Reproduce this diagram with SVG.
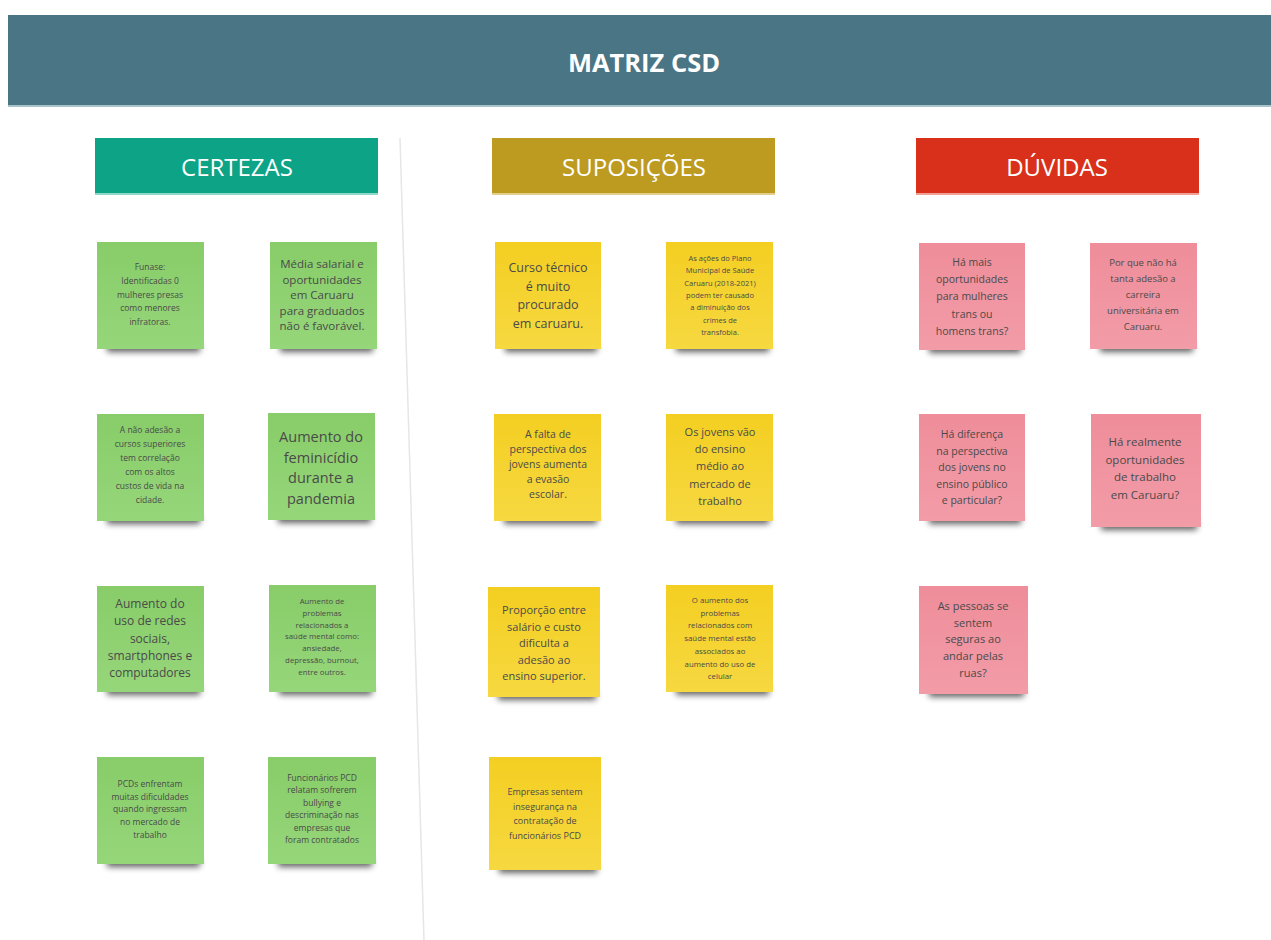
<svg xmlns="http://www.w3.org/2000/svg" width="1271" height="940" viewBox="0 0 1271 940">
<defs>
<style>
.title{font-family:"Open Sans","Noto Sans",sans-serif;font-weight:700;fill:#ffffff;text-anchor:middle}
.colh{font-family:"Open Sans","Noto Sans",sans-serif;font-weight:400;fill:#ffffff;text-anchor:middle}
.t{font-family:"Open Sans","Noto Sans",sans-serif;fill:#4a4a4a;text-anchor:middle}
.shadow{fill:#000;opacity:0.62;filter:url(#blur)}
.g{fill:url(#gg)}
.y{fill:url(#gy)}
.p{fill:url(#gp)}
</style>
<filter id="blur" x="-20%" y="-100%" width="140%" height="300%"><feGaussianBlur stdDeviation="3"/></filter>
<linearGradient id="gg" x1="0" y1="0" x2="0" y2="1"><stop offset="0" stop-color="#88cd69"/><stop offset="1" stop-color="#96d67a"/></linearGradient>
<linearGradient id="gy" x1="0" y1="0" x2="0" y2="1"><stop offset="0" stop-color="#f4cf22"/><stop offset="1" stop-color="#f6d840"/></linearGradient>
<linearGradient id="gp" x1="0" y1="0" x2="0" y2="1"><stop offset="0" stop-color="#ef8d9a"/><stop offset="1" stop-color="#f29ca8"/></linearGradient>
</defs>
<rect width="1271" height="940" fill="#ffffff"/>
<g id="header">
<rect x="8" y="15" width="1263" height="91" fill="#4a7584"/>
<rect x="8" y="105" width="1263" height="2" fill="#a9c3cb"/>
<text class="title" x="644" y="72" font-size="25.5">MATRIZ CSD</text>
</g>
<g id="connectors">
<line x1="400" y1="138" x2="424" y2="940" stroke="#e6e6e6" stroke-width="1.5"/>
</g>
<g id="col-certezas">
<rect x="95" y="138" width="283" height="56" fill="#0ca386"/>
<rect x="95" y="193" width="283" height="2" fill="#8fd8c8"/>
<text class="colh" x="237" y="176" font-size="24">CERTEZAS</text>
</g>
<g id="col-suposicoes">
<rect x="492" y="138" width="283" height="56" fill="#bd9a20"/>
<rect x="492" y="193" width="283" height="2" fill="#e2cf8e"/>
<text class="colh" x="634" y="176" font-size="24">SUPOSIÇÕES</text>
</g>
<g id="col-duvidas">
<rect x="916" y="138" width="283" height="56" fill="#d9301b"/>
<rect x="916" y="193" width="283" height="2" fill="#f0a196"/>
<text class="colh" x="1057" y="176" font-size="24">DÚVIDAS</text>
</g>

<g id="c1"><rect class="shadow" x="107" y="342" width="93" height="10"/><rect class="g" x="97" y="242" width="107" height="107"/>
<text class="t" font-size="8.5" y="270"><tspan x="150" dy="0">Funase:</tspan><tspan x="150" dy="13.8">Identificadas 0</tspan><tspan x="150" dy="13.8">mulheres presas</tspan><tspan x="150" dy="13.8">como menores</tspan><tspan x="150" dy="13.8">infratoras.</tspan></text></g>
<g id="c2"><rect class="shadow" x="280" y="342" width="93" height="10"/><rect class="g" x="270" y="242" width="107" height="107"/>
<text class="t" font-size="11.5" y="268"><tspan x="322" dy="0">Média salarial e</tspan><tspan x="322" dy="15.5">oportunidades</tspan><tspan x="322" dy="15.5">em Caruaru</tspan><tspan x="322" dy="15.5">para graduados</tspan><tspan x="322" dy="15.5">não é favorável.</tspan></text></g>
<g id="c3"><rect class="shadow" x="107" y="514" width="93" height="10"/><rect class="g" x="97" y="414" width="107" height="107"/>
<text class="t" font-size="8.5" y="433"><tspan x="150" dy="0">A não adesão a</tspan><tspan x="150" dy="14">cursos superiores</tspan><tspan x="150" dy="14">tem correlação</tspan><tspan x="150" dy="14">com os altos</tspan><tspan x="150" dy="14">custos de vida na</tspan><tspan x="150" dy="14">cidade.</tspan></text></g>
<g id="c4"><rect class="shadow" x="278" y="513" width="93" height="10"/><rect class="g" x="268" y="413" width="107" height="107"/>
<text class="t" font-size="14.5" y="442"><tspan x="321" dy="0">Aumento do</tspan><tspan x="321" dy="20.5">feminicídio</tspan><tspan x="321" dy="20.5">durante a</tspan><tspan x="321" dy="20.5">pandemia</tspan></text></g>
<g id="c5"><rect class="shadow" x="107" y="685" width="93" height="10"/><rect class="g" x="97" y="586" width="107" height="106"/>
<text class="t" font-size="12" y="608"><tspan x="150" dy="0">Aumento do</tspan><tspan x="150" dy="17.3">uso de redes</tspan><tspan x="150" dy="17.3">sociais,</tspan><tspan x="150" dy="17.3">smartphones e</tspan><tspan x="150" dy="17.3">computadores</tspan></text></g>
<g id="c6"><rect class="shadow" x="279" y="685" width="93" height="10"/><rect class="g" x="269" y="585" width="107" height="107"/>
<text class="t" font-size="7.8" y="604"><tspan x="322" dy="0">Aumento de</tspan><tspan x="322" dy="11.8">problemas</tspan><tspan x="322" dy="11.8">relacionados a</tspan><tspan x="322" dy="11.8">saúde mental como:</tspan><tspan x="322" dy="11.8">ansiedade,</tspan><tspan x="322" dy="11.8">depressão, burnout,</tspan><tspan x="322" dy="11.8">entre outros.</tspan></text></g>
<g id="c7"><rect class="shadow" x="107" y="857" width="93" height="10"/><rect class="g" x="97" y="757" width="107" height="107"/>
<text class="t" font-size="8.5" y="787"><tspan x="150" dy="0">PCDs enfrentam</tspan><tspan x="150" dy="12.7">muitas dificuldades</tspan><tspan x="150" dy="12.7">quando ingressam</tspan><tspan x="150" dy="12.7">no mercado de</tspan><tspan x="150" dy="12.7">trabalho</tspan></text></g>
<g id="c8"><rect class="shadow" x="278" y="857" width="94" height="10"/><rect class="g" x="268" y="757" width="108" height="107"/>
<text class="t" font-size="8.5" y="781"><tspan x="322" dy="0">Funcionários PCD</tspan><tspan x="322" dy="12.4">relatam sofrerem</tspan><tspan x="322" dy="12.4">bullying e</tspan><tspan x="322" dy="12.4">descriminação nas</tspan><tspan x="322" dy="12.4">empresas que</tspan><tspan x="322" dy="12.4">foram contratados</tspan></text></g>

<g id="s1"><rect class="shadow" x="505" y="342" width="92" height="10"/><rect class="y" x="495" y="242" width="106" height="107"/>
<text class="t" font-size="12.5" y="272"><tspan x="548" dy="0">Curso técnico</tspan><tspan x="548" dy="18.7">é muito</tspan><tspan x="548" dy="18.7">procurado</tspan><tspan x="548" dy="18.7">em caruaru.</tspan></text></g>
<g id="s2"><rect class="shadow" x="676" y="342" width="93" height="10"/><rect class="y" x="666" y="242" width="107" height="107"/>
<text class="t" font-size="7.5" y="261"><tspan x="720" dy="0">As ações do Plano</tspan><tspan x="720" dy="12.3">Municipal de Saúde</tspan><tspan x="720" dy="12.3">Caruaru (2018-2021)</tspan><tspan x="720" dy="12.3">podem ter causado</tspan><tspan x="720" dy="12.3">a diminuição dos</tspan><tspan x="720" dy="12.3">crimes de</tspan><tspan x="720" dy="12.3">transfobia.</tspan></text></g>
<g id="s3"><rect class="shadow" x="504" y="514" width="93" height="10"/><rect class="y" x="494" y="414" width="107" height="107"/>
<text class="t" font-size="10.5" y="438"><tspan x="548" dy="0">A falta de</tspan><tspan x="548" dy="15">perspectiva dos</tspan><tspan x="548" dy="15">jovens aumenta</tspan><tspan x="548" dy="15">a evasão</tspan><tspan x="548" dy="15">escolar.</tspan></text></g>
<g id="s4"><rect class="shadow" x="676" y="514" width="93" height="10"/><rect class="y" x="666" y="414" width="107" height="107"/>
<text class="t" font-size="11" y="436"><tspan x="720" dy="0">Os jovens vão</tspan><tspan x="720" dy="17.2">do ensino</tspan><tspan x="720" dy="17.2">médio ao</tspan><tspan x="720" dy="17.2">mercado de</tspan><tspan x="720" dy="17.2">trabalho</tspan></text></g>
<g id="s5"><rect class="shadow" x="498" y="690" width="98" height="10"/><rect class="y" x="488" y="587" width="112" height="110"/>
<text class="t" font-size="11" y="614"><tspan x="544" dy="0">Proporção entre</tspan><tspan x="544" dy="16.5">salário e custo</tspan><tspan x="544" dy="16.5">dificulta a</tspan><tspan x="544" dy="16.5">adesão ao</tspan><tspan x="544" dy="16.5">ensino superior.</tspan></text></g>
<g id="s6"><rect class="shadow" x="676" y="685" width="93" height="10"/><rect class="y" x="666" y="585" width="107" height="107"/>
<text class="t" font-size="7.8" y="603"><tspan x="720" dy="0">O aumento dos</tspan><tspan x="720" dy="12.7">problemas</tspan><tspan x="720" dy="12.7">relacionados com</tspan><tspan x="720" dy="12.7">saúde mental estão</tspan><tspan x="720" dy="12.7">associados ao</tspan><tspan x="720" dy="12.7">aumento do uso de</tspan><tspan x="720" dy="12.7">celular</tspan></text></g>
<g id="s7"><rect class="shadow" x="499" y="863" width="98" height="10"/><rect class="y" x="489" y="757" width="112" height="113"/>
<text class="t" font-size="9" y="795"><tspan x="545" dy="0">Empresas sentem</tspan><tspan x="545" dy="14.6">insegurança na</tspan><tspan x="545" dy="14.6">contratação de</tspan><tspan x="545" dy="14.6">funcionários PCD</tspan></text></g>

<g id="d1"><rect class="shadow" x="929" y="343" width="92" height="10"/><rect class="p" x="919" y="243" width="106" height="107"/>
<text class="t" font-size="10.5" y="266"><tspan x="972" dy="0">Há mais</tspan><tspan x="972" dy="17.2">oportunidades</tspan><tspan x="972" dy="17.2">para mulheres</tspan><tspan x="972" dy="17.2">trans ou</tspan><tspan x="972" dy="17.2">homens trans?</tspan></text></g>
<g id="d2"><rect class="shadow" x="1100" y="342" width="93" height="10"/><rect class="p" x="1090" y="243" width="107" height="106"/>
<text class="t" font-size="9.5" y="266"><tspan x="1143" dy="0">Por que não há</tspan><tspan x="1143" dy="16">tanta adesão a</tspan><tspan x="1143" dy="16">carreira</tspan><tspan x="1143" dy="16">universitária em</tspan><tspan x="1143" dy="16">Caruaru.</tspan></text></g>
<g id="d3"><rect class="shadow" x="929" y="514" width="92" height="10"/><rect class="p" x="919" y="414" width="106" height="107"/>
<text class="t" font-size="10.5" y="438"><tspan x="972" dy="0">Há diferença</tspan><tspan x="972" dy="16.5">na perspectiva</tspan><tspan x="972" dy="16.5">dos jovens no</tspan><tspan x="972" dy="16.5">ensino público</tspan><tspan x="972" dy="16.5">e particular?</tspan></text></g>
<g id="d4"><rect class="shadow" x="1101" y="520" width="96" height="10"/><rect class="p" x="1091" y="414" width="110" height="113"/>
<text class="t" font-size="11.5" y="446"><tspan x="1145" dy="0">Há realmente</tspan><tspan x="1145" dy="17.7">oportunidades</tspan><tspan x="1145" dy="17.7">de trabalho</tspan><tspan x="1145" dy="17.7">em Caruaru?</tspan></text></g>
<g id="d5"><rect class="shadow" x="929" y="687" width="95" height="10"/><rect class="p" x="919" y="586" width="109" height="108"/>
<text class="t" font-size="11" y="610"><tspan x="973" dy="0">As pessoas se</tspan><tspan x="973" dy="16.7">sentem</tspan><tspan x="973" dy="16.7">seguras ao</tspan><tspan x="973" dy="16.7">andar pelas</tspan><tspan x="973" dy="16.7">ruas?</tspan></text></g>
</svg>
